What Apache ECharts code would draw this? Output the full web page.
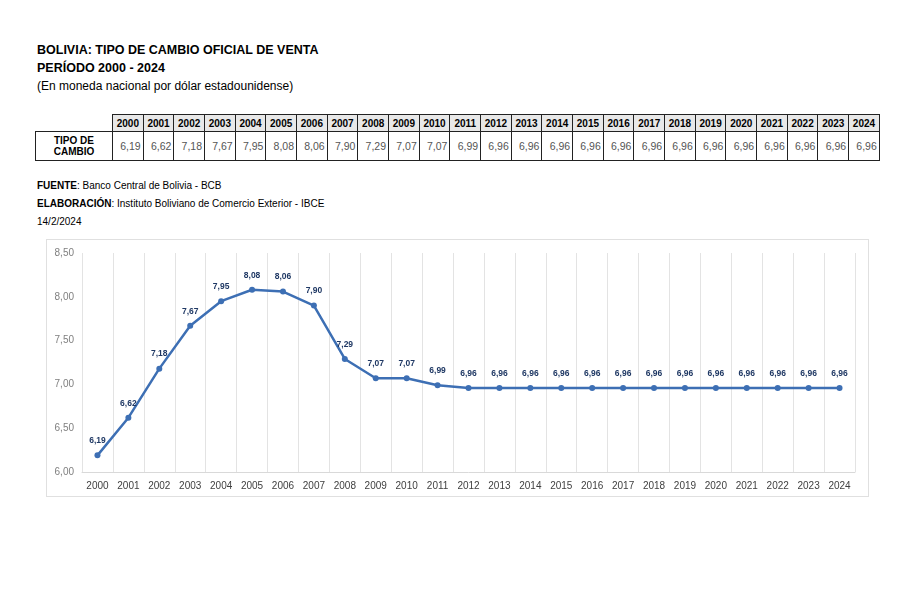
<!DOCTYPE html>
<html>
<head>
<meta charset="utf-8">
<script src="https://cdn.jsdelivr.net/npm/echarts@6/dist/echarts.min.js"></script>
<style>
  html, body { margin:0; padding:0; background:#fff; width:900px; height:600px; overflow:hidden; font-family:"Liberation Sans", Arial, sans-serif; }
  .t { position:absolute; left:37px; color:#000; white-space:nowrap; }
  #tbl { position:absolute; left:35px; top:114px; border-collapse:collapse; table-layout:fixed; width:844px; font-family:"Liberation Sans", Arial, sans-serif; }
  #tbl td { padding:0; box-sizing:border-box; }
  #tbl .h { border:1.5px solid #222; background:#e8e8e8; font-weight:bold; font-size:10px; text-align:center; height:17px; }
  #tbl .v { border:1.5px solid #222; font-size:10.5px; color:#555; text-align:right; padding-right:2px; height:29px; }
  #tbl .lab { border:1.5px solid #222; font-weight:bold; font-size:10px; text-align:center; line-height:11px; }
  #frame { position:absolute; left:46px; top:239px; width:821px; height:256px; border:1px solid #e0e0e0; }
  #chart { position:absolute; left:46px; top:239px; width:823px; height:258px; }
</style>
</head>
<body>
<div class="t" style="top:43px;font-weight:bold;font-size:12.5px;">BOLIVIA: TIPO DE CAMBIO OFICIAL DE VENTA</div>
<div class="t" style="top:61px;font-weight:bold;font-size:12.5px;">PERÍODO 2000 - 2024</div>
<div class="t" style="top:79px;font-size:12px;">(En moneda nacional por dólar estadounidense)</div>
<table id="tbl"></table>
<div class="t" style="top:180px;font-size:10px;"><b>FUENTE</b>: Banco Central de Bolivia - BCB</div>
<div class="t" style="top:198px;font-size:10px;"><b>ELABORACIÓN</b>: Instituto Boliviano de Comercio Exterior - IBCE</div>
<div class="t" style="top:216px;font-size:10px;">14/2/2024</div>
<div id="frame"></div>
<div id="chart"></div>
<script>
const years = ['2000','2001','2002','2003','2004','2005','2006','2007','2008','2009','2010','2011','2012','2013','2014','2015','2016','2017','2018','2019','2020','2021','2022','2023','2024'];
const rates = [6.19,6.62,7.18,7.67,7.95,8.08,8.06,7.90,7.29,7.07,7.07,6.99,6.96,6.96,6.96,6.96,6.96,6.96,6.96,6.96,6.96,6.96,6.96,6.96,6.96];
const rowLabel = ['TIPO DE', 'CAMBIO'];

const fmt = v => Number(v).toFixed(2).replace('.', ',');

// table
const tbl = document.getElementById('tbl');
let h = '<colgroup><col style="width:77px">' + years.map(() => '<col style="width:30.68px">').join('') + '</colgroup>';
h += '<tr><td style="border:none"></td>' + years.map(y => '<td class="h">' + y + '</td>').join('') + '</tr>';
h += '<tr><td class="lab">' + rowLabel.join('<br>') + '</td>' + rates.map(v => '<td class="v">' + fmt(v) + '</td>').join('') + '</tr>';
tbl.innerHTML = h;

const chart = echarts.init(document.getElementById('chart'), null, {renderer:'canvas'});
chart.setOption({
  animation:false,
  backgroundColor:'transparent',
  grid:{left:36, right:14, top:14, bottom:25},
  xAxis:{
    type:'category', data:years, boundaryGap:true,
    axisLine:{show:true, lineStyle:{color:'#d9d9d9', width:1}},
    axisTick:{show:false},
    axisLabel:{color:'#404040', fontSize:10, fontFamily:'Liberation Sans', margin:9, interval:0},
    splitLine:{show:true, lineStyle:{color:'#e3e3e3', width:1}}
  },
  yAxis:{
    type:'value', min:6, max:8.5, interval:0.5,
    axisLine:{show:false}, axisTick:{show:false},
    axisLabel:{color:'#7f7f7f', fontSize:10, fontFamily:'Liberation Sans', formatter:fmt, margin:8},
    splitLine:{show:false}
  },
  series:[{
    type:'line', data:rates,
    symbol:'circle', symbolSize:6,
    lineStyle:{color:'#3d6fb4', width:2.5},
    itemStyle:{color:'#3d6fb4'},
    label:{show:true, position:'top', distance:7, formatter:p => fmt(p.value), color:'#1f3864', fontSize:8.5, fontWeight:'bold', fontFamily:'Liberation Sans'}
  }]
});
</script>
</body>
</html>
